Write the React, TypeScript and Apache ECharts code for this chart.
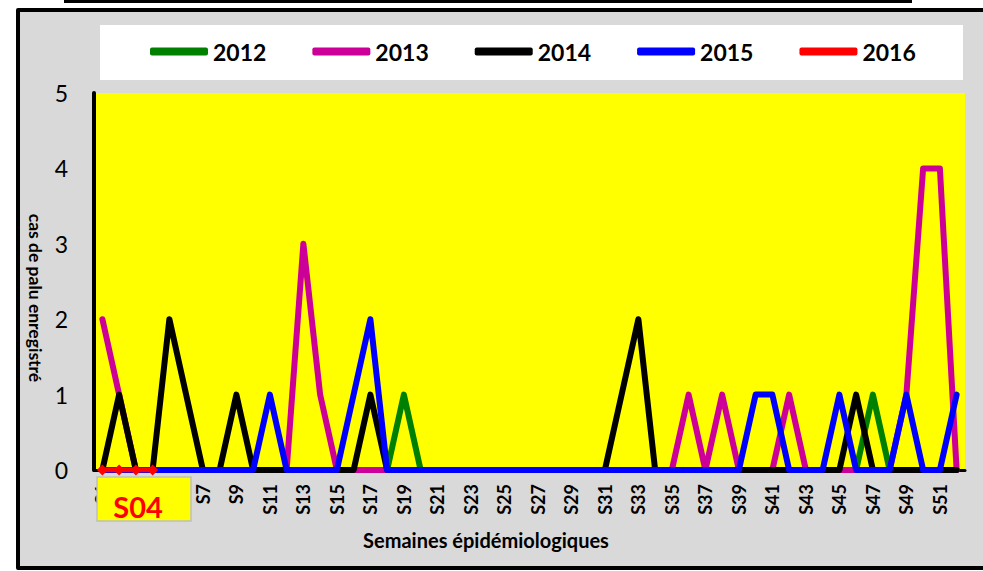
import React, { useEffect, useRef } from "react";
import * as echarts from "echarts";

const weeks = [
  "S1", "S2", "S3", "S4", "S5", "S6", "S7", "S8", "S9", "S10",
  "S11", "S12", "S13", "S14", "S15", "S16", "S17", "S18", "S19", "S20",
  "S21", "S22", "S23", "S24", "S25", "S26", "S27", "S28", "S29", "S30",
  "S31", "S32", "S33", "S34", "S35", "S36", "S37", "S38", "S39", "S40",
  "S41", "S42", "S43", "S44", "S45", "S46", "S47", "S48", "S49", "S50",
  "S51", "S52",
];

const y2012 = [0,0,0,0,0,0,0,0,0,0, 0,0,0,0,0,0,0,0,1,0, 0,0,0,0,0,0,0,0,0,0, 0,0,0,0,0,0,0,0,0,0, 0,0,0,0,0,0,1,0,0,0, 0,0];
const y2013 = [2,1,0,0,0,0,0,0,0,0, 0,0,3,1,0,0,0,0,0,0, 0,0,0,0,0,0,0,0,0,0, 0,0,0,0,0,1,0,1,0,0, 0,1,0,0,0,0,0,0,1,4, 4,0];
const y2014 = [0,1,0,0,2,1,0,0,1,0, 0,0,0,0,0,0,1,0,0,0, 0,0,0,0,0,0,0,0,0,0, 0,1,2,0,0,0,0,0,0,0, 0,0,0,0,0,1,0,0,0,0, 0,0];
const y2015 = [0,0,0,0,0,0,0,0,0,0, 1,0,0,0,0,1,2,0,0,0, 0,0,0,0,0,0,0,0,0,0, 0,0,0,0,0,0,0,0,0,1, 1,0,0,0,1,0,0,0,1,0, 0,1];
const y2016 = [0, 0, 0, 0];

const seriesNames = ["2012", "2013", "2014", "2015", "2016"];
const seriesColors = ["#008000", "#CC0099", "#000000", "#0000FF", "#FF0000"];
const yTicks = [0, 1, 2, 3, 4, 5];
const highlightLabel = "S04";
const xTitle = "Semaines épidémiologiques";
const yTitle = "cas de palu enregistré";

const FONT = "Lato, 'Open Sans', sans-serif";

export default function App() {
  const ref = useRef<HTMLDivElement>(null);

  useEffect(() => {
    document.body.style.margin = "0";
    document.body.style.overflow = "hidden";
    if (!ref.current) return;
    const chart = echarts.init(ref.current, null, { renderer: "svg" });
    const data = [y2012, y2013, y2014, y2015, y2016];

    const series = seriesNames.map((name, i) => {
      const isLast = i === 4;
      return {
        name,
        type: "line",
        data: data[i],
        showSymbol: isLast,
        symbol: "diamond",
        symbolSize: 11,
        itemStyle: { color: seriesColors[i] },
        lineStyle: {
          color: seriesColors[i],
          width: isLast ? 5 : 6,
          join: "round",
          cap: "round",
        },
        emphasis: { disabled: true },
      };
    });

    const border = { stroke: "#000000", lineWidth: 4 };

    chart.setOption({
      animation: false,
      backgroundColor: "#FFFFFF",
      textStyle: { fontFamily: FONT },
      graphic: [
        {
          type: "rect",
          z: -10,
          shape: { x: 64, y: 0, width: 848, height: 3 },
          style: { fill: "#000000" },
        },
        {
          type: "rect",
          z: -10,
          shape: { x: 18, y: 10, width: 965, height: 558 },
          style: { fill: "#D9D9D9" },
        },
        {
          type: "polyline",
          z: -9,
          shape: { points: [[983, 10], [18, 10], [18, 568], [983, 568]] },
          style: { ...border, fill: null, lineJoin: "round" },
        },
        {
          type: "rect",
          z: -9,
          shape: { x: 100, y: 25, width: 863, height: 55 },
          style: { fill: "#FFFFFF" },
        },
        {
          type: "text",
          z: 10,
          x: 35,
          y: 298,
          rotation: -Math.PI / 2,
          style: {
            text: yTitle,
            fill: "#000000",
            font: "bold 17.5px " + FONT,
            align: "center",
            verticalAlign: "middle",
          },
        },
        {
          type: "text",
          z: 10,
          x: 486,
          y: 540,
          style: {
            text: xTitle,
            fill: "#000000",
            font: "bold 20px " + FONT,
            align: "center",
            verticalAlign: "middle",
          },
        },
        {
          type: "group",
          z: 100,
          children: [
            {
              type: "rect",
              z: 100,
              shape: { x: 97, y: 477, width: 94, height: 44 },
              style: { fill: "#FFFF00", stroke: "#BFBFBF", lineWidth: 1.5 },
            },
            {
              type: "text",
              z: 101,
              x: 138,
              y: 506,
              style: {
                text: highlightLabel,
                fill: "#FF0000",
                font: "bold 29px " + FONT,
                align: "center",
                verticalAlign: "middle",
              },
            },
          ],
        },
      ],
      legend: {
        data: seriesNames,
        left: 150,
        top: 40,
        padding: 0,
        icon: "roundRect",
        itemWidth: 58,
        itemHeight: 8,
        itemGap: 46,
        textStyle: { fontSize: 23, fontWeight: "bold", color: "#000000", fontFamily: FONT },
        selectedMode: false,
      },
      grid: {
        left: 94,
        right: 18,
        top: 93,
        bottom: 101,
        show: true,
        backgroundColor: "#FFFF00",
        borderWidth: 0,
        containLabel: false,
      },
      xAxis: {
        type: "category",
        data: weeks,
        boundaryGap: true,
        axisLine: { show: true, lineStyle: { color: "#000000", width: 3 } },
        axisTick: { show: false },
        splitLine: { show: false },
        axisLabel: {
          interval: 1,
          rotate: 90,
          margin: 14,
          fontSize: 18,
          fontWeight: "bold",
          color: "#000000",
          fontFamily: FONT,
        },
      },
      yAxis: {
        type: "value",
        min: yTicks[0],
        max: yTicks[yTicks.length - 1],
        interval: 1,
        axisLine: { show: true, lineStyle: { color: "#000000", width: 4 } },
        axisTick: { show: false },
        splitLine: { show: false },
        axisLabel: {
          margin: 26,
          fontSize: 23,
          color: "#000000",
          fontFamily: FONT,
        },
      },
      series,
    });

    return () => {
      chart.dispose();
    };
  }, []);

  return (
    <div
      ref={ref}
      style={{ position: "absolute", left: 0, top: 0, width: 983, height: 571 }}
    />
  );
}
